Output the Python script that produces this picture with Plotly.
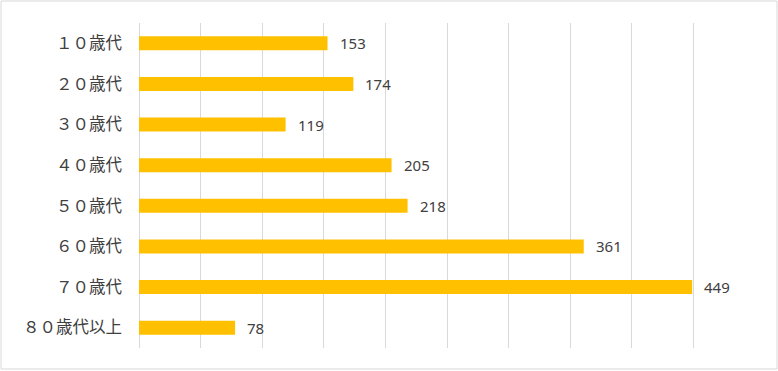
import plotly.graph_objects as go

categories = ["１０歳代", "２０歳代", "３０歳代", "４０歳代", "５０歳代", "６０歳代", "７０歳代", "８０歳代以上"]
values = [153, 174, 119, 205, 218, 361, 449, 78]

fig = go.Figure()
fig.add_trace(go.Bar(
    y=categories, x=values, orientation="h",
    marker=dict(color="#FFC000", line=dict(width=0)),
    hoverinfo="x+y",
))

for c, v in zip(categories, values):
    fig.add_annotation(x=v, y=c, text=str(v), showarrow=False, xanchor="left",
                       xshift=10, font=dict(size=15, color="#404040",
                                             family="Noto Sans, sans-serif"))

fig.add_shape(type="rect", xref="paper", yref="paper",
              x0=-0.2240, x1=1.0357, y0=-0.0646, y1=1.0677,
              line=dict(color="#d9d9d9", width=1), fillcolor="rgba(0,0,0,0)", layer="below")

fig.update_layout(
    width=778, height=371,
    margin=dict(l=139, r=23, t=23, b=23),
    paper_bgcolor="white", plot_bgcolor="white",
    bargap=0.655,
    showlegend=False,
    font=dict(family="Noto Sans CJK JP, Noto Sans, sans-serif", color="#404040", size=14),
    xaxis=dict(range=[0, 500], dtick=50, showgrid=True, gridcolor="#d9d9d9", gridwidth=1,
               showticklabels=False, zeroline=True, zerolinecolor="#d9d9d9", zerolinewidth=1,
               showline=False, ticks="", fixedrange=True),
    yaxis=dict(categoryorder="array", categoryarray=categories, autorange="reversed",
               showgrid=False, zeroline=False, showline=False, ticks="",
               ticklabelstandoff=16, tickfont=dict(size=16.5, color="#404040")),
)

fig.write_html("out.html", config={"displayModeBar": False},
               post_script="document.body.style.margin='0';document.body.style.padding='0';document.body.style.overflow='hidden';")
